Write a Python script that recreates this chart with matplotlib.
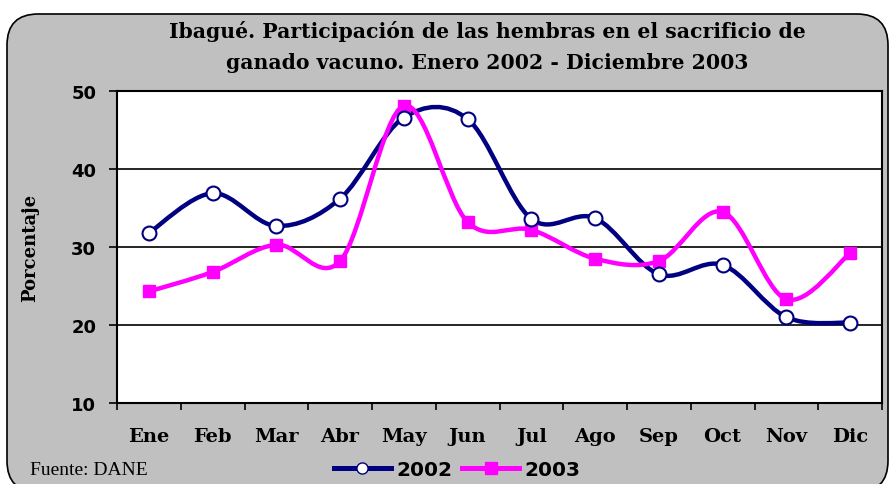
import matplotlib
matplotlib.use('Agg')
import matplotlib.pyplot as plt
import numpy as np
from matplotlib.path import Path
from matplotlib.patches import PathPatch, FancyBboxPatch
from matplotlib.lines import Line2D

meses = ['Ene', 'Feb', 'Mar', 'Abr', 'May', 'Jun', 'Jul', 'Ago', 'Sep', 'Oct', 'Nov', 'Dic']
serie_2002 = [31.8, 36.9, 32.7, 36.2, 46.6, 46.4, 33.6, 33.7, 26.5, 27.7, 21.0, 20.3]
serie_2003 = [24.3, 26.8, 30.3, 28.2, 48.1, 33.2, 32.2, 28.5, 28.2, 34.5, 23.3, 29.2]

NAVY = '#000080'
MAGENTA = '#FF00FF'
GRIS = '#C0C0C0'


def curva_suave(x, y):
    # bezier tipo excel (catmull-rom) a partir de los puntos
    pts = np.column_stack([x, y]).astype(float)
    verts = [pts[0]]
    codes = [Path.MOVETO]
    n = len(pts)
    for i in range(n - 1):
        p0 = pts[i - 1] if i > 0 else pts[i]
        p1 = pts[i]
        p2 = pts[i + 1]
        p3 = pts[i + 2] if i + 2 < n else pts[i + 1]
        c1 = p1 + (p2 - p0) / 6.0
        c2 = p2 - (p3 - p1) / 6.0
        verts += [c1, c2, p2]
        codes += [Path.CURVE4] * 3
    return Path(verts, codes)


fig = plt.figure(figsize=(8.9, 4.85), dpi=100)
fig.patch.set_facecolor('white')

# marco redondeado del grafico
marco = FancyBboxPatch((7 / 890, -8 / 485), 881 / 890, 478 / 485,
                       boxstyle='round,pad=0,rounding_size=0.035',
                       transform=fig.transFigure, facecolor=GRIS,
                       edgecolor='black', linewidth=1.2, zorder=-10,
                       mutation_aspect=890 / 485)
fig.patches.append(marco)

ax = fig.add_axes([117 / 890, 81 / 485, 765 / 890, 312 / 485])
ax.set_zorder(1)
ax.set_facecolor('white')

x = np.arange(len(meses))

for serie, color in [(serie_2002, NAVY), (serie_2003, MAGENTA)]:
    ax.add_patch(PathPatch(curva_suave(x, serie), facecolor='none',
                           edgecolor=color, linewidth=3.2, zorder=3,
                           capstyle='round', joinstyle='round'))

ax.plot(x, serie_2003, linestyle='none', marker='s', markersize=8,
        markerfacecolor=MAGENTA, markeredgecolor=MAGENTA, zorder=4)
ax.plot(x, serie_2002, linestyle='none', marker='o', markersize=10,
        markerfacecolor='white', markeredgecolor=NAVY, markeredgewidth=1.5, zorder=5)

ax.set_xlim(-0.5, len(meses) - 0.5)
ax.set_ylim(10, 50)
ax.set_yticks([10, 20, 30, 40, 50])
ax.set_yticklabels(['10', '20', '30', '40', '50'], fontfamily='DejaVu Sans',
                   fontweight='bold', fontsize=13)
ax.yaxis.grid(True, color='black', linewidth=1.2)
ax.set_axisbelow(True)

ax.set_xticks(np.arange(len(meses) + 1) - 0.5)
ax.set_xticklabels([])
ax.set_xticks(x, minor=True)
ax.set_xticklabels(meses, minor=True, fontfamily='DejaVu Serif',
                   fontweight='bold', fontsize=14)
ax.tick_params(axis='x', which='minor', length=0, pad=17)
ax.tick_params(axis='x', which='major', length=5, width=1.2, direction='out')
ax.tick_params(axis='y', length=6, width=1.2, direction='out', pad=9)

for lado in ax.spines.values():
    lado.set_linewidth(1.5)
    lado.set_color('black')

ax.set_ylabel('Porcentaje', fontfamily='DejaVu Serif', fontweight='bold',
              fontsize=13)
ax.yaxis.set_label_coords(-78 / 765, 0.5)

fig.text(487 / 890, 1 - 47 / 485, 'Ibagué. Participación de las hembras en el sacrificio de\n'
         'ganado vacuno. Enero 2002 - Diciembre 2003',
         ha='center', va='center', fontfamily='DejaVu Serif', fontweight='bold',
         fontsize=14.7, linespacing=1.7)

fig.text(30 / 890, 1 - 471 / 485, 'Fuente: DANE', ha='left', va='center',
         fontfamily='Liberation Serif', fontsize=14)

handles = [
    Line2D([], [], color=NAVY, linewidth=3.6, marker='o', markersize=8,
           markerfacecolor='white', markeredgecolor=NAVY),
    Line2D([], [], color=MAGENTA, linewidth=3.6, marker='s', markersize=8,
           markerfacecolor=MAGENTA, markeredgecolor=MAGENTA),
]
fig.legend(handles, ['2002', '2003'], loc='center', bbox_to_anchor=(457 / 890, 1 - 471 / 485),
           ncol=2, frameon=False, handlelength=2.85, columnspacing=0.5,
           handletextpad=0.25, borderpad=0,
           prop={'family': 'DejaVu Sans', 'weight': 'bold', 'size': 14.5})

fig.savefig('out.png', dpi=100)
